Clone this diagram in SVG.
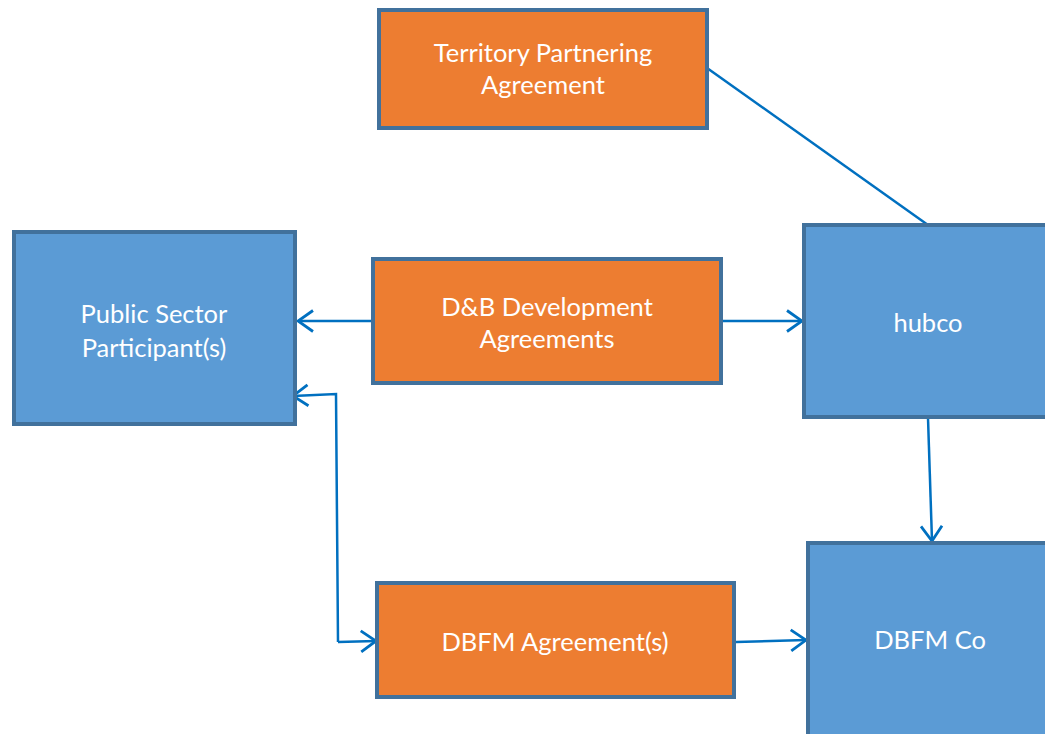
<svg xmlns="http://www.w3.org/2000/svg" width="1045" height="734" viewBox="0 0 1045 734">
  <style>
    .box { stroke: #41719C; stroke-width: 4; }
    .orange { fill: #ED7D31; }
    .blue { fill: #5B9BD5; }
    .label { font-family: Lato, "Open Sans", sans-serif; font-size: 25.5px; fill: #FFFFFF; text-anchor: middle; }
    .conn { fill: none; stroke: #0070C0; stroke-width: 2.5; }
  </style>
  <defs>
    <!-- open chevron arrowhead, sized in user units -->
    <marker id="arrow" viewBox="-18 -14 20 28" refX="0" refY="0" markerWidth="20" markerHeight="28" markerUnits="userSpaceOnUse" orient="auto">
      <path d="M-15,-10.5 L0,0 L-15,10.5" fill="none" stroke="#0070C0" stroke-width="2.8"/>
    </marker>
  </defs>
  <rect width="1045" height="734" fill="#FFFFFF"/>

  <g id="connectors">
    <line class="conn" x1="707" y1="68" x2="928" y2="225"/>
    <line class="conn" x1="373" y1="321" x2="298" y2="321" marker-end="url(#arrow)"/>
    <line class="conn" x1="722" y1="321" x2="802" y2="321" marker-end="url(#arrow)"/>
    <line class="conn" x1="928" y1="418" x2="932" y2="541" marker-end="url(#arrow)"/>
    <polyline class="conn" points="338,642 336,394 293,396" marker-end="url(#arrow)"/>
    <polyline class="conn" points="338,642 376,641" marker-end="url(#arrow)"/>
    <line class="conn" x1="736" y1="642" x2="806" y2="640" marker-end="url(#arrow)"/>
  </g>

  <g id="territory-partnering">
    <rect class="box orange" x="379" y="10" width="328" height="118"/>
    <text class="label" x="543" y="62">Territory Partnering</text>
    <text class="label" x="543" y="94">Agreement</text>
  </g>

  <g id="public-sector">
    <rect class="box blue" x="14" y="232" width="281" height="192"/>
    <text class="label" x="154" y="323">Public Sector</text>
    <text class="label" x="154" y="357">Participant(s)</text>
  </g>

  <g id="db-development">
    <rect class="box orange" x="373" y="259" width="348" height="124"/>
    <text class="label" x="547" y="316">D&amp;B Development</text>
    <text class="label" x="547" y="348">Agreements</text>
  </g>

  <g id="hubco">
    <rect class="box blue" x="804" y="225" width="260" height="192"/>
    <text class="label" x="928" y="332">hubco</text>
  </g>

  <g id="dbfm-agreement">
    <rect class="box orange" x="377" y="583" width="357" height="114"/>
    <text class="label" x="555" y="651">DBFM Agreement(s)</text>
  </g>

  <g id="dbfm-co">
    <rect class="box blue" x="808" y="543" width="260" height="210"/>
    <text class="label" x="930" y="649">DBFM Co</text>
  </g>
</svg>
